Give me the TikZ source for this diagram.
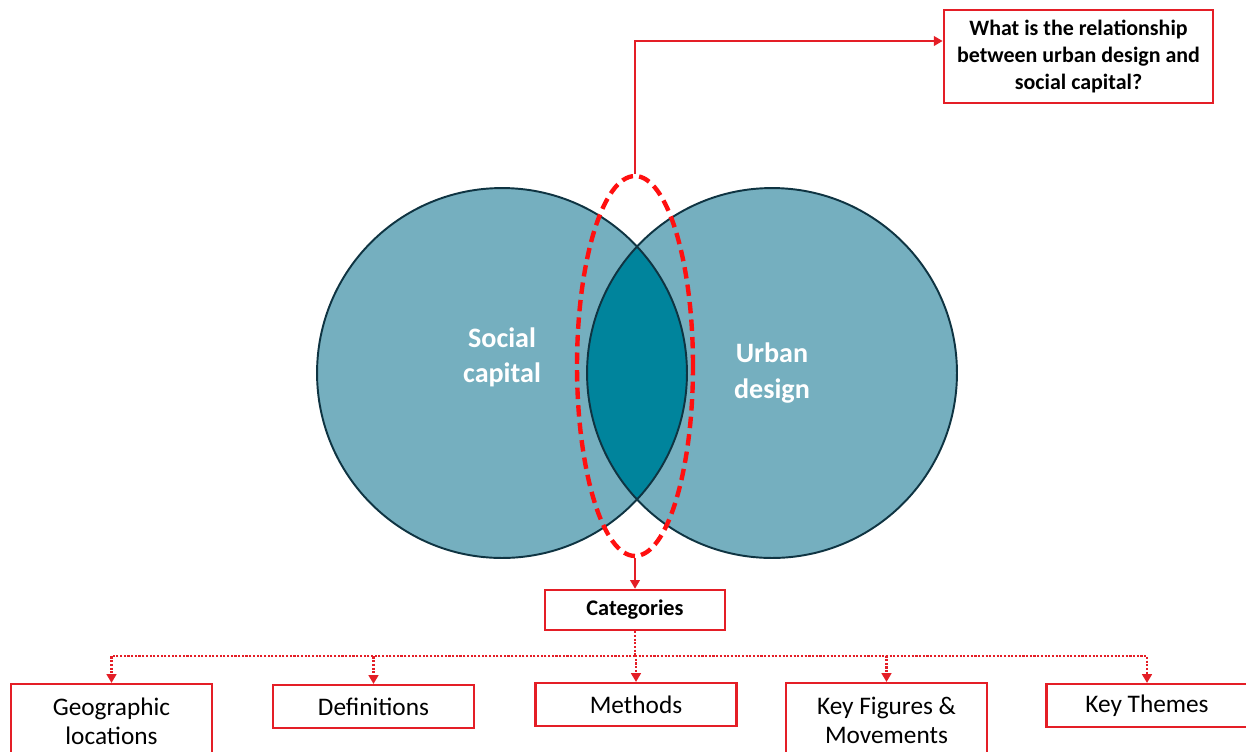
\documentclass[tikz,border=0pt]{standalone}
\usepackage{fontspec}
\setmainfont{Carlito}
\usetikzlibrary{arrows.meta,shapes.geometric,positioning}
\definecolor{capblue}{HTML}{75AFBF}
\definecolor{lensblue}{HTML}{00849C}
\definecolor{rimblue}{HTML}{0F3442}
\definecolor{boxred}{HTML}{E41E26}
\definecolor{ovalred}{HTML}{FF1010}

\begin{document}
\begin{tikzpicture}[x=0.02cm,y=-0.02cm,>={Triangle[length=5pt,width=5.5pt]}]
  \tikzstyle{setlabel}=[text=white,font=\fontsize{16}{20}\selectfont\bfseries,align=center]
  \tikzstyle{redbox}=[draw=boxred,line width=1.2pt,fill=white,align=center,inner sep=0pt]
  \tikzstyle{catbox}=[redbox,minimum width=4.02cm,minimum height=0.86cm,font=\fontsize{14.4}{16.5}\selectfont]
  \tikzstyle{feed}=[->,boxred,line width=1.1pt]
  \tikzstyle{dots}=[boxred,line width=1.3pt,dash pattern=on 1.2pt off 0.9pt]
  \useasboundingbox (0,0) rectangle (1246,751);

  % the two sets and their overlap
  \fill[capblue] (502,373) circle (3.7cm) (772,373) circle (3.7cm);
  \begin{scope}
    \clip (502,373) circle (3.7cm);
    \fill[lensblue] (772,373) circle (3.7cm);
  \end{scope}
  \draw[rimblue,line width=1.1pt] (502,373) circle (3.7cm) (772,373) circle (3.7cm);
  \node[setlabel] (soc) at (502,357) {Social\\capital};
  \node[setlabel] (urb) at (772,373) {Urban\\design};

  \node[ellipse,draw=ovalred,line width=2.5pt,dash pattern=on 6.5pt off 3.5pt,
        minimum width=2.32cm,minimum height=7.6cm,inner sep=0pt] (oval) at (635,366) {};

  \node[redbox,line width=1.6pt,minimum width=5.38cm,minimum height=1.86cm,
        font=\fontsize{12.5}{15.3}\selectfont\bfseries] (quest) at (1078.5,56.5)
        {What is the relationship\\between urban design and\\social capital?};
  \coordinate (turn) at (635,41);
  \draw[feed] (oval.north) -- (turn) -- (turn -| quest.west);

  \node[redbox,line width=1.4pt,minimum width=3.6cm,minimum height=0.8cm,
        font=\fontsize{12.7}{14}\selectfont\bfseries] (cats) at (635,610) {Categories};
  \draw[feed] (oval.south) -- (cats.north);

  % categories
  \node[catbox,minimum height=1.48cm] (geo) at (111.5,721) {Geographic\\locations};
  \node[catbox] (defs) at (373.5,706.5) {Definitions};
  \node[catbox] (meth) at (636,704.5) {Methods};
  \node[catbox,minimum height=1.48cm] (figs) at (886.5,720) {Key Figures \&\\Movements};
  \node[catbox] (themes) at (1147,705.5) {Key Themes};

  \coordinate (bus) at (635,656);
  \draw[dots] (cats.south) -- (bus);
  \foreach \cat in {geo,defs,meth,figs,themes}
    \draw[dots,->] (bus) -| (\cat.north);
\end{tikzpicture}
\end{document}
